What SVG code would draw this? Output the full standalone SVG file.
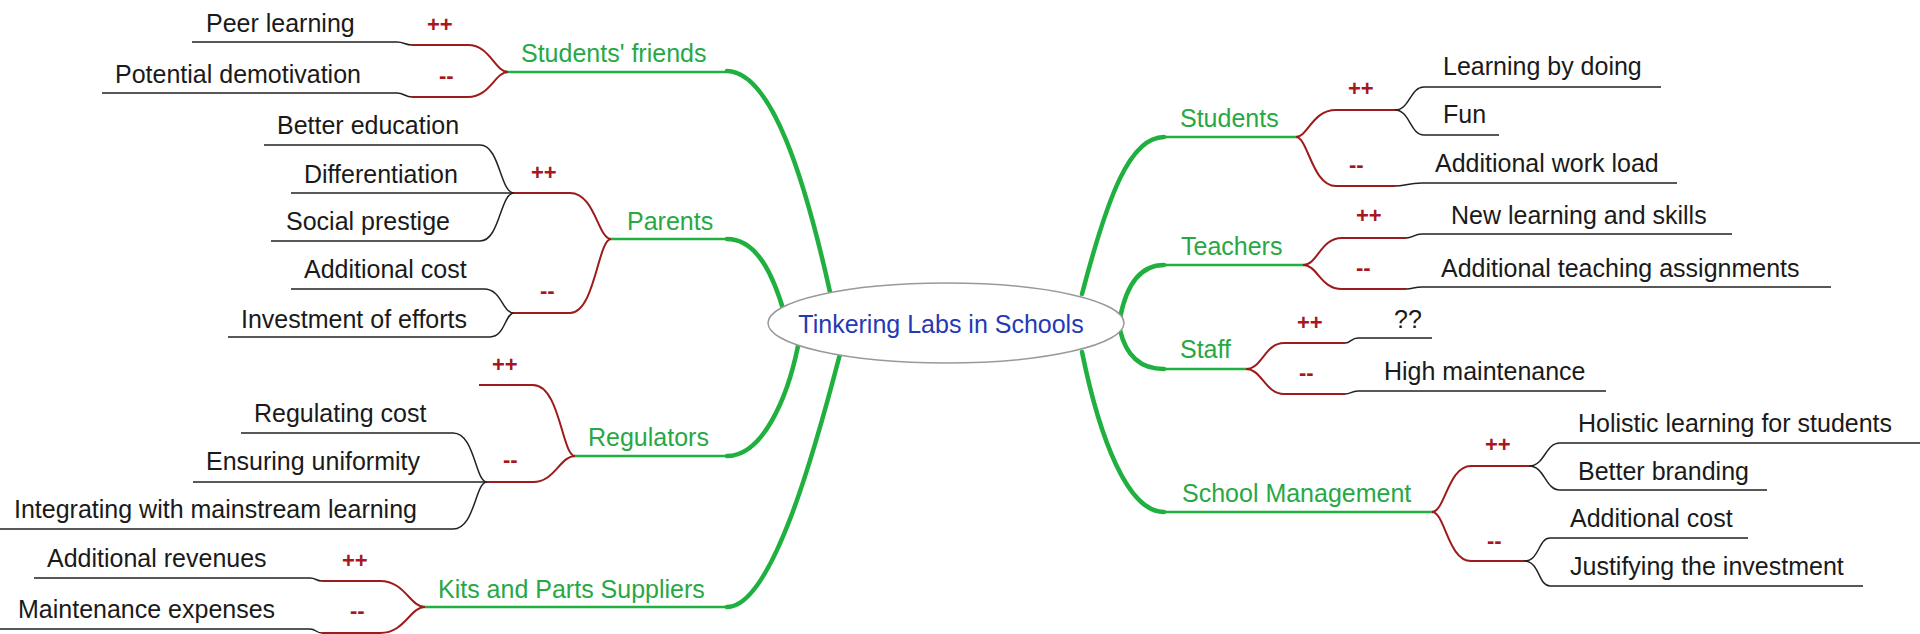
<svg xmlns="http://www.w3.org/2000/svg" width="1920" height="634" viewBox="0 0 1920 634">
<style>
text{font-family:"Liberation Sans",Arial,sans-serif;font-size:25px}
.leaf{fill:#1a1a1a}
.br{fill:#27a845}
.sg{fill:#a8161e;font-size:22px;font-weight:bold}
.root{fill:#2439b5;text-anchor:middle}
.ln{fill:none;stroke:#222;stroke-width:1.5}
.rd{fill:none;stroke:#9e1b1b;stroke-width:2}
.gu{fill:none;stroke:#1fb03f;stroke-width:2.5}
.gc{fill:none;stroke:#1fb03f;stroke-width:4.5;stroke-linecap:round}
</style>
<rect width="1920" height="634" fill="#fff"/>
<g id="connectors">
<path class="gc" d="M727,71 C772,72 805,180 830,292"/>
<path class="gc" d="M727,239 C757,239 773,275 784,312"/>
<path class="gc" d="M727,456 C762,456 787,400 798,346"/>
<path class="gc" d="M727,607 C772,607 815,450 840,354"/>
<path class="gc" d="M1164,137 C1130,137 1108,195 1082,294"/>
<path class="gc" d="M1164,265 C1136,265 1125,292 1120,318"/>
<path class="gc" d="M1120,330 C1126,356 1140,369 1164,369"/>
<path class="gc" d="M1082,352 C1100,440 1128,512 1164,512"/>
</g>
<g id="root">
<ellipse cx="946" cy="323" rx="178" ry="40" fill="#fff" stroke="#999" stroke-width="1.5"/>
<text class="root" x="941" y="333">Tinkering Labs in Schools</text>
</g>
<g id="students-friends">
<path class="gu" d="M506,72 H727"/>
<text class="br" x="521" y="62">Students' friends</text>
<path class="rd" d="M412,45 H468 C490,45 495,72 508,72"/>
<path class="rd" d="M412,97 H468 C490,97 495,72 508,72"/>
<text class="sg" x="427" y="32">++</text>
<text class="sg" x="439" y="83">--</text>
<path class="ln" d="M192,42 H397 C404,42 405,45 412,45"/>
<text class="leaf" x="206" y="32">Peer learning</text>
<path class="ln" d="M102,93 H397 C404,93 405,97 412,97"/>
<text class="leaf" x="115" y="83">Potential demotivation</text>
</g>
<g id="parents">
<path class="gu" d="M610,239 H727"/>
<text class="br" x="627" y="230">Parents</text>
<path class="rd" d="M514,193 H570 C595,193 598,239 611,239"/>
<path class="rd" d="M514,313 H570 C595,313 598,239 611,239"/>
<text class="sg" x="531" y="180">++</text>
<text class="sg" x="540" y="298">--</text>
<path class="ln" d="M264,145 H480 C500,145 500,193 514,193"/>
<text class="leaf" x="277" y="134">Better education</text>
<path class="ln" d="M291,193 H514"/>
<text class="leaf" x="304" y="183">Differentiation</text>
<path class="ln" d="M271,241 H480 C500,241 500,193 514,193"/>
<text class="leaf" x="286" y="230">Social prestige</text>
<path class="ln" d="M291,289 H484 C502,289 502,313 514,313"/>
<text class="leaf" x="304" y="278">Additional cost</text>
<path class="ln" d="M228,337 H490 C505,337 505,313 514,313"/>
<text class="leaf" x="241" y="328">Investment of efforts</text>
</g>
<g id="regulators">
<path class="gu" d="M574,456 H727"/>
<text class="br" x="588" y="446">Regulators</text>
<path class="rd" d="M479,385 H533 C560,385 562,456 575,456"/>
<path class="rd" d="M487,482 H533 C555,482 560,456 575,456"/>
<text class="sg" x="492" y="372">++</text>
<text class="sg" x="503" y="467">--</text>
<path class="ln" d="M241,433 H453 C475,433 475,482 487,482"/>
<text class="leaf" x="254" y="422">Regulating cost</text>
<path class="ln" d="M193,482 H487"/>
<text class="leaf" x="206" y="470">Ensuring uniformity</text>
<path class="ln" d="M0,529 H453 C475,529 475,482 487,482"/>
<text class="leaf" x="14" y="518">Integrating with mainstream learning</text>
</g>
<g id="kits">
<path class="gu" d="M424,607 H727"/>
<text class="br" x="438" y="598">Kits and Parts Suppliers</text>
<path class="rd" d="M322,581 H380 C405,581 410,607 425,607"/>
<path class="rd" d="M322,633 H380 C405,633 410,607 425,607"/>
<text class="sg" x="342" y="568">++</text>
<text class="sg" x="350" y="618">--</text>
<path class="ln" d="M34,578 H310 C316,578 316,581 322,581"/>
<text class="leaf" x="47" y="567">Additional revenues</text>
<path class="ln" d="M0,629 H310 C316,629 316,633 322,633"/>
<text class="leaf" x="18" y="618">Maintenance expenses</text>
</g>
<g id="students">
<path class="gu" d="M1164,137 H1297"/>
<text class="br" x="1180" y="127">Students</text>
<path class="rd" d="M1296,137 C1308,137 1312,110 1336,110 H1395"/>
<path class="rd" d="M1296,137 C1308,137 1312,186 1336,186 H1395"/>
<text class="sg" x="1348" y="96">++</text>
<text class="sg" x="1349" y="172">--</text>
<path class="ln" d="M1395,110 C1410,110 1410,87 1424,87 H1661"/>
<text class="leaf" x="1443" y="75">Learning by doing</text>
<path class="ln" d="M1395,110 C1410,110 1410,135 1424,135 H1499"/>
<text class="leaf" x="1443" y="123">Fun</text>
<path class="ln" d="M1395,186 C1405,186 1408,183 1422,183 H1677"/>
<text class="leaf" x="1435" y="172">Additional work load</text>
</g>
<g id="teachers">
<path class="gu" d="M1164,265 H1304"/>
<text class="br" x="1181" y="255">Teachers</text>
<path class="rd" d="M1303,265 C1318,265 1320,238 1342,238 H1406"/>
<path class="rd" d="M1303,265 C1318,265 1320,289 1342,289 H1406"/>
<text class="sg" x="1356" y="223">++</text>
<text class="sg" x="1356" y="275">--</text>
<path class="ln" d="M1406,238 C1413,238 1414,234 1422,234 H1732"/>
<text class="leaf" x="1451" y="224">New learning and skills</text>
<path class="ln" d="M1406,289 C1413,289 1414,287 1422,287 H1831"/>
<text class="leaf" x="1441" y="277">Additional teaching assignments</text>
</g>
<g id="staff">
<path class="gu" d="M1164,369 H1247"/>
<text class="br" x="1180" y="358">Staff</text>
<path class="rd" d="M1246,369 C1262,369 1265,343 1284,343 H1345"/>
<path class="rd" d="M1246,369 C1262,369 1265,394 1284,394 H1345"/>
<text class="sg" x="1297" y="330">++</text>
<text class="sg" x="1299" y="380">--</text>
<path class="ln" d="M1345,343 C1351,343 1351,338 1358,338 H1432"/>
<text class="leaf" x="1394" y="328">??</text>
<path class="ln" d="M1345,394 C1351,394 1351,391 1358,391 H1606"/>
<text class="leaf" x="1384" y="380">High maintenance</text>
</g>
<g id="school-management">
<path class="gu" d="M1164,512 H1433"/>
<text class="br" x="1182" y="502">School Management</text>
<path class="rd" d="M1432,512 C1445,512 1448,466 1471,466 H1529"/>
<path class="rd" d="M1432,512 C1445,512 1448,561 1471,561 H1524"/>
<text class="sg" x="1485" y="452">++</text>
<text class="sg" x="1487" y="548">--</text>
<path class="ln" d="M1529,466 C1545,466 1545,443 1560,443 H1920"/>
<text class="leaf" x="1578" y="432">Holistic learning for students</text>
<path class="ln" d="M1529,466 C1545,466 1545,490 1560,490 H1767"/>
<text class="leaf" x="1578" y="480">Better branding</text>
<path class="ln" d="M1524,561 C1540,561 1538,538 1550,538 H1748"/>
<text class="leaf" x="1570" y="527">Additional cost</text>
<path class="ln" d="M1524,561 C1540,561 1538,586 1550,586 H1863"/>
<text class="leaf" x="1570" y="575">Justifying the investment</text>
</g>
</svg>
